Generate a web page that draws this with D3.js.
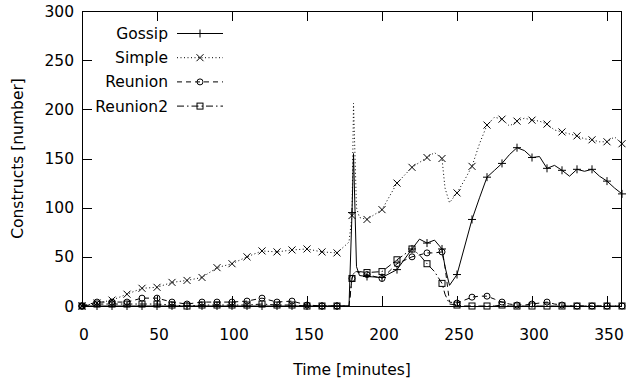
<!DOCTYPE html>
<html>
<head>
<meta charset="utf-8">
<script src="https://cdn.jsdelivr.net/npm/d3@7"></script>
<style>
  body { margin: 0; background: #fff; }
  text { font-family: "DejaVu Sans", sans-serif; font-size: 15.5px; fill: #000; }
</style>
</head>
<body>
<div id="chart"></div>
<script>
// sample times (minutes)
var times = [0,10,20,30,40,50,60,70,80,90,100,110,120,130,140,150,160,170,
  178,180,181,183,185,
  190,200,210,220,225,230,235,240,242,245,250,255,260,265,270,275,280,285,290,295,300,
  305,310,315,320,325,330,335,340,345,350,355,360];

var gossip = [0,0,0,0,0,0,0,0,0,0,0,0,0,0,0,0,0,0,
  0,95,155,40,31,
  30,29,37,58,68,64,67,58,40,21,32,60,88,110,131,138,145,154,161,158,151,
  152,140,143,138,132,139,137,139,132,127,120,114];

var simple = [0,3,6,12,18,19,24,26,29,39,43,50,56,55,57,58,55,54,
  65,92,206,100,90,
  88,98,125,141,146,151,156,150,120,105,115,128,142,165,184,192,190,183,188,191,189,
  188,185,179,177,175,173,170,169,167,167,172,165];

var reunion = [0,4,4,4,8,8,4,2,4,4,4,5,8,4,5,1,0,0,
  0,28,34,35,34,
  32,28,43,50,52,54,54,55,40,4,3,6,9,10,10,7,4,2,1,1,2,
  3,4,2,1,0,0,0,0,0,0,0,0];

var reunion2 = [0,2,2,2,2,2,1,0,1,1,1,1,2,1,1,0,0,0,
  0,28,33,35,35,
  34,35,47,58,52,43,35,23,12,2,1,0,0,0,0,0,1,0,0,0,0,
  0,0,0,0,0,0,0,0,0,0,0,0];

var seriesNames = ["Gossip", "Simple", "Reunion", "Reunion2"];
var xTicks = [0,50,100,150,200,250,300,350];
var yTicks = [0,50,100,150,200,250,300];

var svgWidth = 626, svgHeight = 385;
var plotLeft = 82, plotRight = 622, plotTop = 11, plotBottom = 306;

var svg = d3.select("#chart").append("svg")
  .attr("width", svgWidth)
  .attr("height", svgHeight);

var x = d3.scaleLinear().domain([0, 360]).range([plotLeft, plotRight]);
var y = d3.scaleLinear().domain([0, 300]).range([plotBottom, plotTop]);

// ticks, all four sides, pointing in
var tickLen = 10;
var grid = svg.append("g").attr("stroke", "#000").attr("stroke-width", 1);
xTicks.forEach(function(t) {
  var px = Math.round(x(t)) + 0.5;
  grid.append("line").attr("x1", px).attr("x2", px).attr("y1", plotBottom).attr("y2", plotBottom - tickLen);
  grid.append("line").attr("x1", px).attr("x2", px).attr("y1", plotTop).attr("y2", plotTop + tickLen);
});
yTicks.forEach(function(t) {
  var py = Math.round(y(t)) + 0.5;
  grid.append("line").attr("x1", plotLeft).attr("x2", plotLeft + tickLen).attr("y1", py).attr("y2", py);
  grid.append("line").attr("x1", plotRight).attr("x2", plotRight - tickLen).attr("y1", py).attr("y2", py);
});

// tick labels
svg.append("g").selectAll("text").data(xTicks).enter().append("text")
  .attr("x", d => x(d) + 2)
  .attr("y", 340)
  .attr("text-anchor", "middle")
  .text(d => d);
svg.append("g").selectAll("text").data(yTicks).enter().append("text")
  .attr("x", 74)
  .attr("y", d => y(d) + 5.5)
  .attr("text-anchor", "end")
  .text(d => d);

// axis titles
svg.append("text")
  .attr("x", (plotLeft + plotRight) / 2)
  .attr("y", 375)
  .attr("text-anchor", "middle")
  .text("Time [minutes]");
svg.append("text")
  .attr("transform", "translate(23," + ((plotTop + plotBottom) / 2) + ") rotate(-90)")
  .attr("text-anchor", "middle")
  .text("Constructs [number]");

// series styling
var styles = [
  { vals: gossip, dash: null, mark: "plus" },
  { vals: simple, dash: "1,2.5", mark: "cross" },
  { vals: reunion, dash: "5,4", mark: "circle" },
  { vals: reunion2, dash: "7,3,1.5,3", mark: "square" }
];

function drawMarker(g, kind, cx, cy) {
  if (kind === "plus") {
    g.append("path").attr("d", `M${cx-4},${cy}H${cx+4}M${cx},${cy-4}V${cy+4}`);
  } else if (kind === "cross") {
    g.append("path").attr("d", `M${cx-3.5},${cy-3.5}L${cx+3.5},${cy+3.5}M${cx-3.5},${cy+3.5}L${cx+3.5},${cy-3.5}`);
  } else if (kind === "circle") {
    g.append("circle").attr("cx", cx).attr("cy", cy).attr("r", 3);
  } else {
    g.append("rect").attr("x", cx - 3).attr("y", cy - 3).attr("width", 6).attr("height", 6);
  }
}

var line = d3.line()
  .x((d, i) => x(times[i]))
  .y(d => y(d));

var plot = svg.append("g");
styles.forEach(function(s) {
  plot.append("path")
    .attr("d", line(s.vals))
    .attr("fill", "none")
    .attr("stroke", "#000")
    .attr("stroke-width", 1)
    .attr("stroke-dasharray", s.dash);
  var mg = plot.append("g").attr("fill", "none").attr("stroke", "#000").attr("stroke-width", 1);
  s.vals.forEach(function(v, i) {
    if (times[i] % 10 === 0) drawMarker(mg, s.mark, x(times[i]), y(v));
  });
});

// legend
var legend = svg.append("g");
seriesNames.forEach(function(name, i) {
  var ly = 33.5 + i * 24.2;
  legend.append("text")
    .attr("x", 168)
    .attr("y", ly + 5.5)
    .attr("text-anchor", "end")
    .text(name);
  legend.append("line")
    .attr("x1", 177).attr("x2", 223)
    .attr("y1", ly).attr("y2", ly)
    .attr("stroke", "#000")
    .attr("stroke-width", 1)
    .attr("stroke-dasharray", styles[i].dash);
  var mg = legend.append("g").attr("fill", "none").attr("stroke", "#000").attr("stroke-width", 1);
  drawMarker(mg, styles[i].mark, 200, ly);
});

// frame
svg.append("rect")
  .attr("x", plotLeft + 0.5).attr("y", plotTop + 0.5)
  .attr("width", plotRight - plotLeft - 1).attr("height", plotBottom - plotTop)
  .attr("fill", "none")
  .attr("stroke", "#000")
  .attr("stroke-width", 1);
</script>
</body>
</html>
